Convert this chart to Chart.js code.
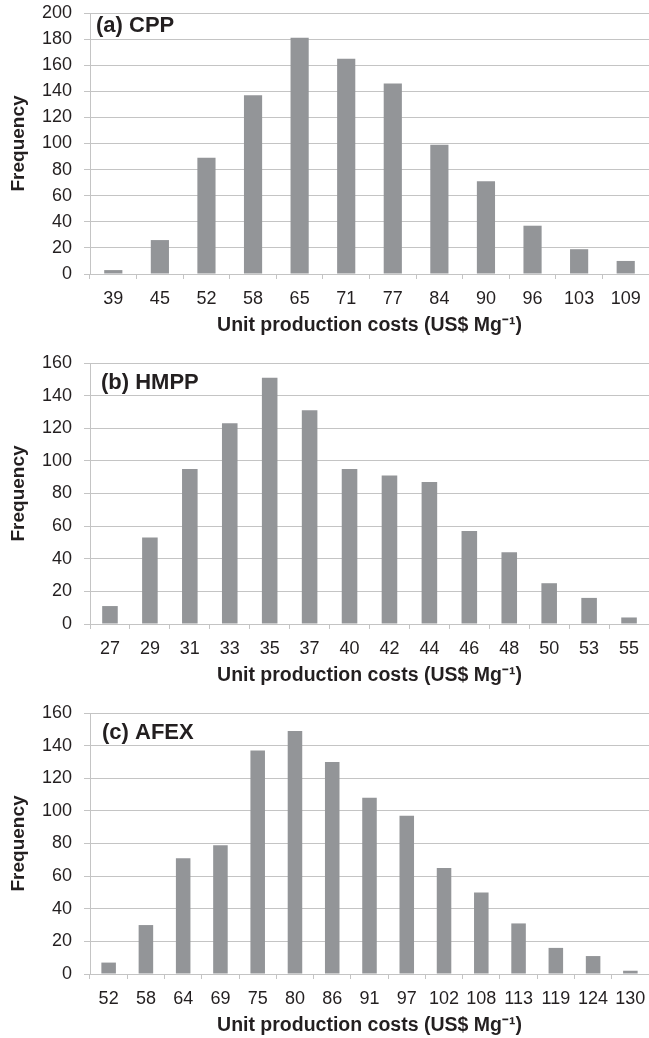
<!DOCTYPE html>
<html>
<head>
<meta charset="utf-8">
<script src="https://cdn.jsdelivr.net/npm/chart.js@4.4.0/dist/chart.umd.min.js"></script>
<style>
  html, body { margin: 0; padding: 0; background: #fff; overflow: hidden; }
  .panel { width: 649px; height: 350px; }
</style>
</head>
<body>
<div class="panel"><canvas id="cppCanvas" width="649" height="350"></canvas></div>
<div class="panel"><canvas id="hmppCanvas" width="649" height="350"></canvas></div>
<div class="panel"><canvas id="afexCanvas" width="649" height="350"></canvas></div>
<script>
// unit production cost bins (US$ Mg-1) and frequencies
var cppLabels = ["39", "45", "52", "58", "65", "71", "77", "84", "90", "96", "103", "109"];
var cppFreq = [3, 26, 89, 137, 181, 165, 146, 99, 71, 37, 19, 10];

var hmppLabels = ["27", "29", "31", "33", "35", "37", "40", "42", "44", "46", "48", "50", "53", "55"];
var hmppFreq = [11, 53, 95, 123, 151, 131, 95, 91, 87, 57, 44, 25, 16, 4];

var afexLabels = ["52", "58", "64", "69", "75", "80", "86", "91", "97", "102", "108", "113", "119", "124", "130"];
var afexFreq = [7, 30, 71, 79, 137, 149, 130, 108, 97, 65, 50, 31, 16, 11, 2];

var barColor = "#939598";
var gridColor = "#c4c4c4";
var textColor = "#231f20";
var fontName = "'Liberation Sans', Arial, sans-serif";

// draws the (a)/(b)/(c) tag inside the plot area
var panelTag = {
	id: "panelTag",
	afterDraw: function(chart, args, opts) {
		var ctx = chart.ctx;
		ctx.save();
		ctx.font = "bold 22px " + fontName;
		ctx.fillStyle = textColor;
		ctx.textBaseline = "alphabetic";
		ctx.fillText(opts.text, opts.x, chart.chartArea.top + opts.dy);
		ctx.restore();
	}
};

function makeChart(id, labels, values, yMax, tag, tagX, tagDy) {
	return new Chart(document.getElementById(id), {
		type: "bar",
		data: {
			labels: labels,
			datasets: [{
				data: values,
				backgroundColor: barColor,
				borderWidth: 0,
				categoryPercentage: 1.0,
				barPercentage: 0.39
			}]
		},
		plugins: [panelTag],
		options: {
			responsive: false,
			animation: false,
			layout: { padding: { top: 13, right: 0, bottom: 0, left: 0 } },
			plugins: {
				legend: { display: false },
				tooltip: { enabled: false },
				panelTag: { text: tag, x: tagX, dy: tagDy }
			},
			scales: {
				x: {
					afterFit: function(scale) {
						scale.height = 76;
						scale.paddingLeft = 0;
						scale.paddingRight = 0;
					},
					grid: {
						display: true,
						drawOnChartArea: false,
						drawTicks: true,
						tickLength: 5,
						color: gridColor
					},
					border: { display: true, color: gridColor },
					ticks: {
						color: textColor,
						font: { family: fontName, size: 18 },
						padding: 9,
						maxRotation: 0,
						autoSkip: false
					},
					title: {
						display: true,
						text: "Unit production costs (US$ Mg\u207B\u00B9)",
						color: textColor,
						font: { family: fontName, size: 19.5, weight: "bold" },
						padding: { top: 0, bottom: 13 }
					}
				},
				y: {
					min: 0,
					max: yMax,
					afterFit: function(scale) {
						scale.width = 90;
						scale.paddingTop = 0;
						scale.paddingBottom = 0;
					},
					grid: {
						color: gridColor,
						drawTicks: true,
						tickLength: 6
					},
					border: { display: true, color: gridColor },
					ticks: {
						stepSize: 20,
						color: textColor,
						font: { family: fontName, size: 18 },
						padding: 12
					},
					title: {
						display: true,
						text: "Frequency",
						color: textColor,
						font: { family: fontName, size: 19, weight: "bold" },
						padding: { top: 7, bottom: 0 }
					}
				}
			}
		}
	});
}

makeChart("cppCanvas", cppLabels, cppFreq, 200, "(a) CPP", 96, 19);
makeChart("hmppCanvas", hmppLabels, hmppFreq, 160, "(b) HMPP", 101, 26);
makeChart("afexCanvas", afexLabels, afexFreq, 160, "(c) AFEX", 102, 26);
</script>
</body>
</html>
